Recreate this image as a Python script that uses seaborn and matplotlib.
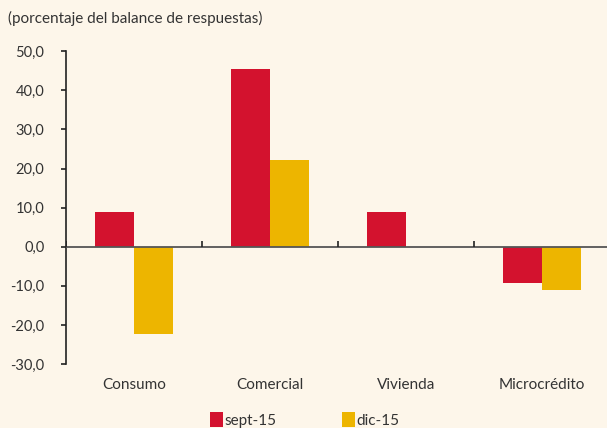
import matplotlib
matplotlib.use("Agg")
import matplotlib.pyplot as plt
from matplotlib.patches import Patch
import seaborn as sns
import pandas as pd

categories = ["Consumo", "Comercial", "Vivienda", "Microcrédito"]
series_names = ["sept-15", "dic-15"]
sept_15 = [8.8, 45.4, 8.8, -9.2]
dic_15 = [-22.4, 22.1, 0.0, -11.2]
y_ticks = [-30, -20, -10, 0, 10, 20, 30, 40, 50]
y_tick_labels = ["-30,0", "-20,0", "-10,0", "0,0", "10,0", "20,0", "30,0", "40,0", "50,0"]
title = "(porcentaje del balance de respuestas)"

bg = "#FDF6EA"
colors = ["#D3122E", "#EDB500"]

df = pd.DataFrame({
    "categoria": categories * 2,
    "serie": [series_names[0]] * 4 + [series_names[1]] * 4,
    "valor": sept_15 + dic_15,
})

sns.set_theme(style="white")
plt.rcParams["font.family"] = ["Lato", "DejaVu Sans"]

W, H = 607, 428
fig = plt.figure(figsize=(W / 100, H / 100), dpi=100, facecolor=bg)
ax = fig.add_axes([66 / W, 1 - 364 / H, (607 - 66) / W, (364 - 51.2) / H])
ax.set_facecolor(bg)

sns.barplot(data=df, x="categoria", y="valor", hue="serie", order=categories,
            hue_order=series_names, palette=colors, width=0.567, gap=0,
            saturation=1, legend=False, ax=ax, linewidth=0)

ax.set_xlim(-0.5, -0.5 + 541 / 136)
ax.set_ylim(-30, 50)
ax.set_yticks(y_ticks)
ax.set_yticklabels(y_tick_labels)
ax.tick_params(axis="y", which="major", direction="out", length=3.5, width=1.2,
               color="#222222", labelsize=10.5, labelcolor="#333333", pad=12, left=True)
ax.tick_params(axis="x", length=0, labelsize=11, labelcolor="#333333", pad=10)
ax.set_xlabel("")
ax.set_ylabel("")

for side in ["top", "right", "bottom"]:
    ax.spines[side].set_visible(False)
ax.spines["left"].set_color("#222222")
ax.spines["left"].set_linewidth(1.2)

# zero line with small upward separators between categories
ax.axhline(0, color="#555555", linewidth=1.3, zorder=3)
ax.vlines([i - 0.5 for i in range(len(categories) + 1)], 0, 1.4,
          color="#222222", linewidth=1.2, zorder=3)

fig.text(8 / W, 1 - 18 / H, title, fontsize=11, color="#333333", va="center", ha="left")

handles = [Patch(facecolor=c, edgecolor="none") for c in colors]
fig.legend(handles, series_names, loc="center left", bbox_to_anchor=(204 / W, 1 - 420 / H),
           ncol=2, frameon=False, fontsize=11, handlelength=0.85, handleheight=1.1,
           handletextpad=0.1, columnspacing=4.3, labelcolor="#333333", borderaxespad=0)

fig.savefig("out.png", dpi=100, facecolor=bg)
